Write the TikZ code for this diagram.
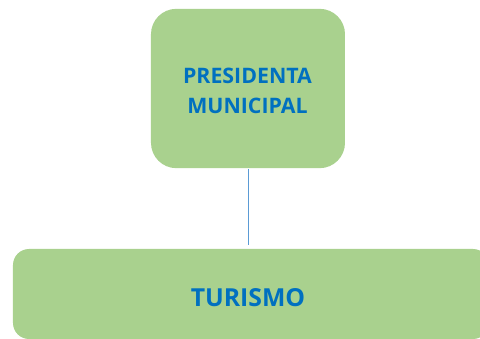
\documentclass[tikz,border=0pt]{standalone}
\usepackage{fontspec}
\setmainfont{Open Sans}
\definecolor{boxgreen}{HTML}{A9D18E}
\definecolor{txtblue}{HTML}{0070C0}
\definecolor{lineblue}{HTML}{5B9BD5}
\tikzset{
  orgbox/.style={fill=boxgreen, draw=none, inner sep=0pt},
  orgtext/.style={text=txtblue, font=\bfseries, align=center, inner sep=0pt},
  link/.style={draw=lineblue, line width=0.75pt}
}
\begin{document}
\begin{tikzpicture}[x=0.75pt, y=-0.75pt]
\useasboundingbox (0,0) rectangle (480,339);
\clip (0,0) rectangle (480,339);
\node (pres) [orgbox, rounded corners=19pt, minimum width=145.5pt, minimum height=119.5pt] at (248,88.5) {};
\node (prestext) [orgtext, font=\fontsize{16}{22.5}\selectfont\bfseries] at (247.5,91) {PRESIDENTA\\MUNICIPAL};
\node (tur) [orgbox, rounded corners=12pt, minimum width=357pt, minimum height=67.5pt] at (251,294) {};
\node (turtext) [orgtext, font=\fontsize{18.6}{23}\selectfont\bfseries] at (248,298) {TURISMO};
\coordinate (linetop) at (248.5,169);
\coordinate (linebot) at (248.5,245);
\draw[link] (linetop) -- (linebot);
\end{tikzpicture}
\end{document}
